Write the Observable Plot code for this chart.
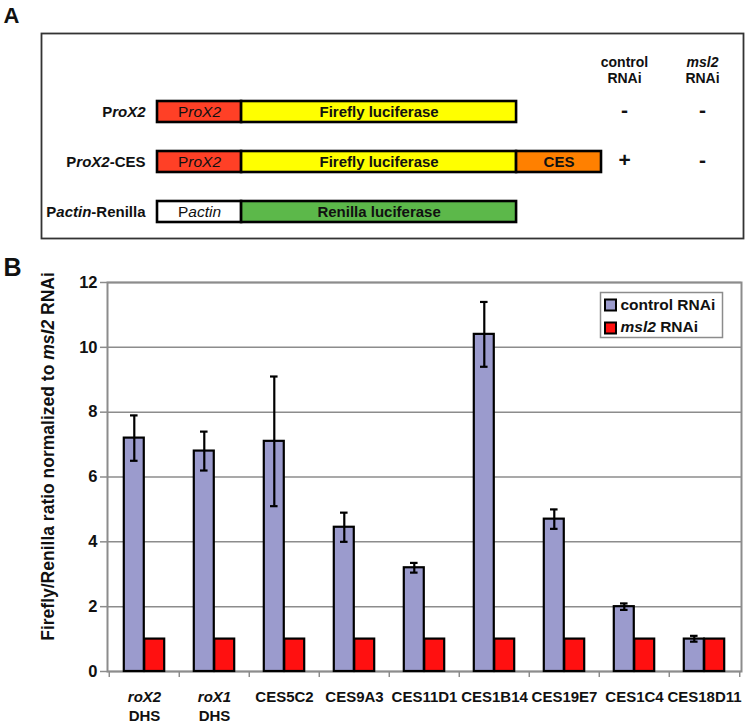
<!DOCTYPE html>
<html>
<head>
<meta charset="utf-8">
<script src="https://cdn.jsdelivr.net/npm/d3@7"></script>
<script src="https://cdn.jsdelivr.net/npm/@observablehq/plot@0.6"></script>
<style>
  html, body { margin: 0; padding: 0; background: #fff; }
  #chart svg { display: block; }
</style>
</head>
<body>
<div id="chart"></div>
<script>
// ---------------- Panel A data (construct diagram) ----------------
const constructs = ["ProX2", "ProX2-CES", "Pactin-Renilla"];
const constructLabels = ["P_roX2_", "P_roX2_-CES", "P_actin_-Renilla"];
const partLabels = [
  ["P_roX2_", "Firefly luciferase"],
  ["P_roX2_", "Firefly luciferase", "CES"],
  ["P_actin_", "Renilla luciferase"]
];
const partKinds = [
  ["promoterX2", "firefly"],
  ["promoterX2", "firefly", "ces"],
  ["actin", "renilla"]
];
// relative lengths of the construct parts
const partLengths = [
  [1.0, 3.27],
  [1.0, 3.27, 1.01],
  [1.0, 3.27]
];
const rnaiConditions = ["control\nRNAi", "_msl2_\nRNAi"];
const activityConstructs = ["ProX2", "ProX2-CES"];
const activityControl = ["-", "+"];
const activityMsl2 = ["-", "-"];

// ---------------- Panel B data (bar chart) ----------------
const categories = ["roX2 DHS", "roX1 DHS", "CES5C2", "CES9A3", "CES11D1", "CES1B14", "CES19E7", "CES1C4", "CES18D11"];
const tickLabels = ["_roX2_\nDHS", "_roX1_\nDHS", "CES5C2", "CES9A3", "CES11D1", "CES1B14", "CES19E7", "CES1C4", "CES18D11"];
const controlValues = [7.2, 6.8, 7.1, 4.45, 3.2, 10.4, 4.7, 2.0, 1.0];
const controlLow    = [6.5, 6.2, 5.1, 4.0, 3.05, 9.4, 4.4, 1.9, 0.92];
const controlHigh   = [7.9, 7.4, 9.1, 4.9, 3.35, 11.4, 5.0, 2.1, 1.1];
const msl2Values    = [1, 1, 1, 1, 1, 1, 1, 1, 1];
const seriesNames = ["control RNAi", "_msl2_ RNAi"];
const yTicks = [0, 2, 4, 6, 8, 10, 12];
const yTitle = "Firefly/Renilla ratio normalized to _msl2_ RNAi";

// ---------------- styles ----------------
const partColors = {promoterX2: "#ff4026", firefly: "#ffff00", ces: "#ff8000", actin: "#ffffff", renilla: "#5cb84a"};
const normalWeightParts = new Set(["promoterX2", "actin"]);
const seriesColors = ["#9b9bcd", "#ff1010"];
const gridColor = "#8c8c8c";
const narrowFont = '"Liberation Sans Narrow", "Arial Narrow", "Liberation Sans", Arial, sans-serif';
const sansFont = '"Liberation Sans", Arial, Helvetica, sans-serif';

// build segment table
const segments = [];
constructs.forEach((c, i) => {
  let pos = 0;
  partLengths[i].forEach((len, j) => {
    segments.push({construct: c, label: partLabels[i][j], kind: partKinds[i][j], start: pos, end: pos + len});
    pos += len;
  });
});
const totalLen = d3.max(segments, d => d.end);

function italicize(root) {
  const ns = "http://www.w3.org/2000/svg";
  root.querySelectorAll("text, tspan").forEach(el => {
    if (el.children.length) return;
    const s = el.textContent;
    if (!s.includes("_")) return;
    el.textContent = "";
    s.split("_").forEach((part, i) => {
      if (!part) return;
      const t = document.createElementNS(ns, "tspan");
      if (i % 2) t.setAttribute("font-style", "italic");
      t.textContent = part;
      el.appendChild(t);
    });
  });
}

// ---------------- Panel A ----------------
const plotA = Plot.plot({
  width: 750, height: 240,
  marginTop: 33, marginBottom: 2, marginLeft: 41, marginRight: 7,
  style: {fontFamily: narrowFont, fontSize: "15px", color: "#111", background: "#fff"},
  x: {domain: [0, totalLen], range: [157, 601], axis: null},
  y: {type: "band", domain: ["header", ...constructs], range: [46, 227], paddingInner: 0.58, paddingOuter: 0.1, axis: null},
  color: {type: "identity"},
  marks: [
    Plot.frame({stroke: "#333", strokeWidth: 1.8}),
    Plot.barX(segments, {x1: "start", x2: "end", y: "construct", fill: d => partColors[d.kind], stroke: "#000", strokeWidth: 2.6}),
    Plot.text(segments.filter(d => !normalWeightParts.has(d.kind)), {x: d => (d.start + d.end) / 2, y: "construct", text: "label", fontWeight: "bold", fontSize: 15}),
    Plot.text(segments.filter(d => normalWeightParts.has(d.kind)), {x: d => (d.start + d.end) / 2, y: "construct", text: "label", fontWeight: "normal", fontSize: 15.5}),
    Plot.text(constructs, {x: () => 0, y: d => d, text: (d, i) => constructLabels[i], textAnchor: "end", dx: -12, fontWeight: "bold", fontSize: 15}),
    Plot.text([rnaiConditions[0]], {y: () => "header", frameAnchor: "right", textAnchor: "middle", lineAnchor: "middle", dx: -119, dy: 7.5, fontWeight: "bold", fontSize: 14, lineHeight: 1.14}),
    Plot.text([rnaiConditions[1]], {y: () => "header", frameAnchor: "right", textAnchor: "middle", lineAnchor: "middle", dx: -41, dy: 7.5, fontWeight: "bold", fontSize: 14, lineHeight: 1.14}),
    Plot.text(activityConstructs, {y: d => d, text: (d, i) => activityControl[i], frameAnchor: "right", textAnchor: "middle", lineAnchor: "middle", dx: -119, dy: -2, fontWeight: "bold", fontSize: 21, fontFamily: sansFont}),
    Plot.text(activityConstructs, {y: d => d, text: (d, i) => activityMsl2[i], frameAnchor: "right", textAnchor: "middle", lineAnchor: "middle", dx: -41, dy: -2, fontWeight: "bold", fontSize: 21, fontFamily: sansFont}),
    Plot.text(["A"], {frameAnchor: "top-left", textAnchor: "start", lineAnchor: "middle", dx: -38, dy: -17.5, fontWeight: "bold", fontSize: 22, fontFamily: sansFont})
  ]
});

// ---------------- Panel B ----------------
const bW = 750, bML = 107, bMR = 9;
const step = (bW - bML - bMR) / categories.length;
const outerFrac = 0.21, midFrac = 0.5;
const ctrlCenterFrac = (outerFrac + midFrac) / 2;
const capHalf = 4;

const plotB = Plot.plot({
  width: bW, height: 483,
  marginTop: 42, marginBottom: 52, marginLeft: bML, marginRight: bMR,
  style: {fontFamily: sansFont, fontSize: "15px", fontWeight: "bold", color: "#111", background: "#fff"},
  x: {type: "band", domain: categories, padding: 0},
  y: {domain: [0, 12]},
  marks: [
    Plot.ruleY(yTicks, {stroke: gridColor, strokeWidth: 1.5}),
    Plot.frame({stroke: gridColor, strokeWidth: 2}),
    Plot.ruleX(categories, {x: d => d, y1: 0, y2: 0, insetBottom: -6, dx: -step / 2, stroke: gridColor, strokeWidth: 1.5}),
    Plot.ruleX(categories.slice(-1), {x: d => d, y1: 0, y2: 0, insetBottom: -6, dx: step / 2, stroke: gridColor, strokeWidth: 1.5}),
    Plot.axisY({ticks: yTicks, tickSize: 7, tickPadding: 3, stroke: gridColor, strokeWidth: 1.5, fill: "#111", fontSize: 16.5, fontWeight: "bold", label: null}),
    Plot.axisX({tickSize: 0, tickPadding: 17, tickFormat: d => tickLabels[categories.indexOf(d)], fontSize: 15, fontWeight: "bold", lineHeight: 1.25, fill: "#111", label: null}),
    Plot.barY(categories, {x: d => d, y: (d, i) => controlValues[i], fill: seriesColors[0], stroke: "#000", strokeWidth: 2.2, insetLeft: outerFrac * step, insetRight: midFrac * step}),
    Plot.barY(categories, {x: d => d, y: (d, i) => msl2Values[i], fill: seriesColors[1], stroke: "#000", strokeWidth: 2.2, insetLeft: midFrac * step, insetRight: outerFrac * step}),
    Plot.ruleX(categories, {x: d => d, y1: (d, i) => controlLow[i], y2: (d, i) => controlHigh[i], dx: -(0.5 - ctrlCenterFrac) * step, stroke: "#000", strokeWidth: 2.2}),
    Plot.tickY(categories, {x: d => d, y: (d, i) => controlHigh[i], insetLeft: ctrlCenterFrac * step - capHalf, insetRight: (1 - ctrlCenterFrac) * step - capHalf, stroke: "#000", strokeWidth: 2.2}),
    Plot.tickY(categories, {x: d => d, y: (d, i) => controlLow[i], insetLeft: ctrlCenterFrac * step - capHalf, insetRight: (1 - ctrlCenterFrac) * step - capHalf, stroke: "#000", strokeWidth: 2.2}),
    // legend
    Plot.frame({insetLeft: 493, insetRight: 19, insetTop: 10, insetBottom: 334, stroke: gridColor, strokeWidth: 1.5, fill: "#fff"}),
    ...seriesNames.flatMap((name, i) => [
      Plot.dot([name], {frameAnchor: "top-left", dx: 503, dy: 22.5 + 23 * i, symbol: "square", r: 6.2, fill: seriesColors[i], stroke: "#000", strokeWidth: 2}),
      Plot.text([name], {frameAnchor: "top-left", textAnchor: "start", lineAnchor: "middle", dx: 513, dy: 23 + 22 * i, fontSize: 15.5, fontWeight: "bold"})
    ]),
    Plot.text([yTitle], {frameAnchor: "left", textAnchor: "middle", lineAnchor: "middle", rotate: -90, dx: -59, dy: -20.5, fontSize: 17.5, fontWeight: "bold"}),
    Plot.text(["B"], {frameAnchor: "top-left", textAnchor: "start", lineAnchor: "middle", dx: -104, dy: -14.5, fontSize: 25, fontWeight: "bold"})
  ]
});

italicize(plotA);
italicize(plotB);
document.getElementById("chart").append(plotA, plotB);
</script>
</body>
</html>
